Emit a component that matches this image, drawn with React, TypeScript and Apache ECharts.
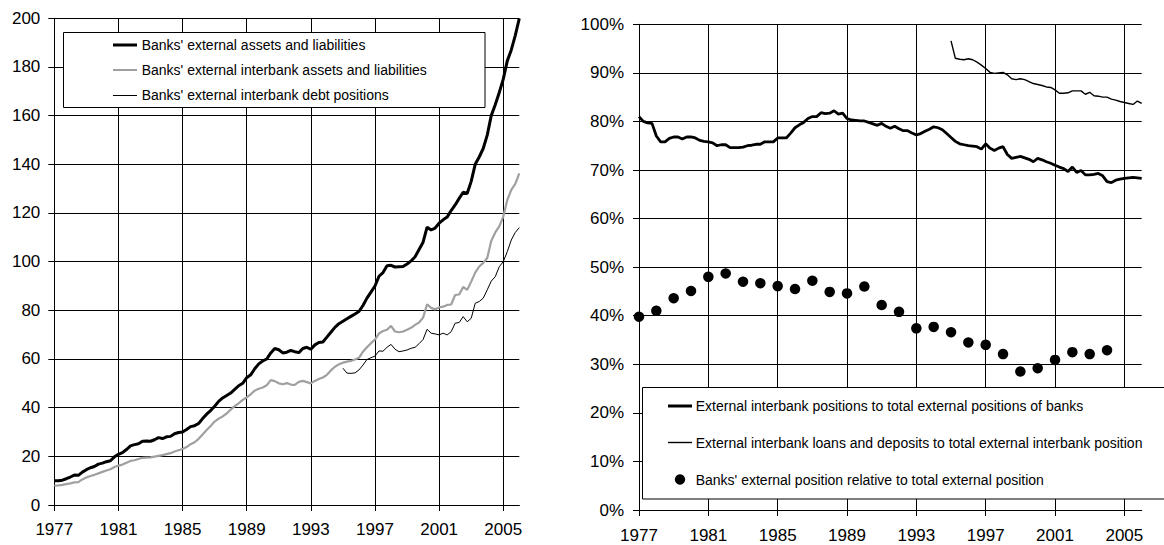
import React, { useEffect, useRef } from "react";
import * as echarts from "echarts";

// ---------- categories ----------
const START_YEAR = 1977;
const N_QUARTERS = 117; // 1977Q1 .. 2006Q1
const quarters: string[] = Array.from({ length: N_QUARTERS }, (_, i) => `${START_YEAR + Math.floor(i / 4)}Q${(i % 4) + 1}`);

// ---------- left chart (index values) ----------
const banksExternal: number[] = [
  10.0, 10.0, 10.2, 10.8,
  11.5, 12.3, 12.2, 13.5,
  14.5, 15.3, 15.8, 16.8,
  17.2, 17.8, 18.2, 19.8,
  20.8, 21.5, 22.8, 24.3,
  24.8, 25.2, 26.2, 26.3,
  26.2, 26.8, 27.7, 27.3,
  28.0, 28.2, 29.3, 29.8,
  30.0, 31.0, 32.2, 32.6,
  33.5, 35.5, 37.3, 38.8,
  40.6, 42.6, 44.0, 45.0,
  46.0, 47.5, 49.0, 50.0,
  52.3, 53.5, 56.0, 58.0,
  59.2, 60.0, 62.5, 64.3,
  63.8, 62.5, 62.8, 63.5,
  63.0, 62.6, 64.3, 64.8,
  64.0, 65.8, 66.8, 67.0,
  69.0, 71.0, 73.0, 74.5,
  75.5, 76.5, 77.5, 78.5,
  79.5, 82.0, 85.0, 87.5,
  90.0, 94.0, 95.5, 98.3,
  98.5, 97.8, 97.9, 98.0,
  99.0, 100.3, 102.0, 105.0,
  108.0, 114.2, 113.0, 113.8,
  115.8, 117.2, 118.3, 121.0,
  123.3, 126.0, 128.5, 128.0,
  133.0, 140.0, 143.0, 146.5,
  152.0, 160.0, 164.5, 169.5,
  175.0, 182.5, 187.0, 193.0,
  200.0,
];

const banksInterbank: number[] = [
  8.0, 8.1, 8.3, 8.6,
  8.9, 9.3, 9.4, 10.5,
  11.3, 11.9, 12.4, 13.0,
  13.6, 14.2, 14.7, 15.6,
  16.2, 16.6, 17.4, 18.1,
  18.4, 18.9, 19.4, 19.5,
  19.6, 19.9, 20.2, 20.5,
  20.9, 21.3, 22.0, 22.5,
  23.0, 23.8, 25.0, 25.8,
  27.2, 29.0, 30.8, 32.5,
  34.3, 35.5, 36.4, 37.6,
  39.2, 40.6, 41.8, 43.2,
  44.2, 45.5, 47.0, 47.8,
  48.3, 49.2, 51.3, 50.9,
  50.0, 49.6, 50.1, 49.5,
  49.4, 50.6, 51.0, 50.5,
  50.0, 51.0, 51.8, 52.4,
  53.5, 55.3, 56.8, 57.8,
  58.5, 58.9, 59.2, 59.8,
  60.5, 63.0, 64.8, 66.5,
  68.0, 70.5, 71.5, 72.0,
  73.6, 71.3, 71.0, 71.3,
  72.0, 72.8, 74.0, 75.0,
  77.0, 82.5, 81.0, 80.4,
  81.2, 81.5, 82.2, 82.4,
  86.3, 86.5, 89.6, 88.4,
  91.8, 95.5, 98.0, 99.5,
  101.5, 108.5, 112.0, 114.5,
  118.5, 125.3, 129.5, 132.0,
  136.3,
];

const DEBT_START_INDEX = 72; // 1995Q1
const banksDebt: number[] = [
  56.2, 54.2, 54.1, 54.3,
  55.5, 57.5, 59.8, 60.5,
  61.2, 63.3, 63.2, 64.8,
  66.0, 64.0, 63.0, 63.3,
  63.7, 64.4, 64.8, 66.3,
  68.0, 72.2, 70.6, 70.3,
  69.9, 70.6, 69.9, 71.2,
  74.7, 75.0, 77.4, 75.3,
  76.7, 82.9, 83.6, 85.0,
  88.4, 92.0, 93.8, 97.9,
  100.0, 104.1, 108.9, 112.0,
  114.0,
];

// ---------- right chart (percent) ----------
const interbankShare: number[] = [
  81.0, 80.0, 79.7, 79.6,
  77.0, 75.8, 75.8, 76.5,
  76.8, 76.8, 76.4, 76.8,
  76.8, 76.6, 76.1, 75.9,
  75.8, 75.6, 75.0, 75.2,
  75.2, 74.6, 74.6, 74.6,
  74.7, 75.0, 75.1, 75.3,
  75.3, 75.8, 75.8, 75.8,
  76.6, 76.6, 76.6, 77.6,
  78.7, 79.3, 79.8, 80.6,
  81.0, 81.0, 81.8, 81.6,
  81.7, 82.2, 81.5, 81.7,
  80.6, 80.3, 80.2, 80.1,
  80.1, 79.8, 79.5, 79.2,
  79.6, 79.0, 78.6, 79.0,
  78.5, 78.1, 78.1, 77.6,
  77.2, 77.5, 78.0, 78.4,
  78.9, 78.7, 78.3, 77.5,
  76.7, 75.9, 75.4, 75.2,
  75.0, 74.9, 74.8, 74.3,
  75.4, 74.5, 74.0, 74.5,
  74.8, 73.2, 72.4, 72.6,
  72.8, 72.5, 72.2, 71.7,
  72.4, 72.1, 71.7, 71.4,
  71.0, 70.6, 70.3, 69.7,
  70.6, 69.5, 69.9, 69.0,
  69.0, 69.1, 69.3, 68.8,
  67.6, 67.4, 67.9, 68.1,
  68.3, 68.4, 68.5, 68.4,
  68.3,
];

const LOANS_START_INDEX = 72; // 1995Q1
const loansDepositsShare: number[] = [
  96.6, 93.0, 92.8, 92.7,
  92.9, 92.7, 92.2, 91.6,
  90.9, 90.1, 89.9, 90.0,
  90.1, 89.6, 88.8, 88.6,
  88.8, 88.6, 88.2, 87.8,
  87.6, 87.4, 87.1, 87.0,
  86.5, 85.8, 85.8, 85.9,
  86.3, 86.3, 86.3, 85.6,
  86.0, 85.3, 85.2, 85.0,
  85.0, 84.6, 84.4, 84.1,
  83.9, 83.7, 83.5, 84.2,
  83.7,
];

const dotYears: number[] = [
  1977, 1978, 1979, 1980, 1981, 1982, 1983, 1984, 1985, 1986, 1987, 1988, 1989, 1990,
  1991, 1992, 1993, 1994, 1995, 1996, 1997, 1998, 1999, 2000, 2001, 2002, 2003, 2004,
];
const dotValues: number[] = [
  39.8, 41.0, 43.6, 45.1, 48.0, 48.7, 47.0, 46.7, 46.1, 45.5, 47.2, 44.9, 44.6, 46.0,
  42.2, 40.8, 37.4, 37.7, 36.6, 34.5, 34.0, 32.1, 28.5, 29.2, 30.9, 32.5, 32.1, 32.9,
];

// ---------- labels ----------
const leftNames: string[] = [
  "Banks' external assets and liabilities",
  "Banks' external interbank assets and liabilities",
  "Banks' external interbank debt positions",
];
const rightNames: string[] = [
  "External interbank positions to total external positions of banks",
  "External interbank loans and deposits to total external interbank position",
  "Banks' external position relative to total external position",
];

const FONT = "'Liberation Sans', Arial, sans-serif";
const GRAY = "#a0a0a0";

const every16 = (i: number) => i % 16 === 0;

function makeXAxis(gridIndex: number, margin: number) {
  return {
    type: "category",
    gridIndex,
    data: quarters,
    boundaryGap: false,
    axisLine: { show: true, lineStyle: { color: "#000", width: 1 } },
    axisTick: { show: true, interval: every16, length: 6, lineStyle: { color: "#000" } },
    axisLabel: {
      interval: every16,
      formatter: (v: string) => v.slice(0, 4),
      color: "#000",
      fontFamily: FONT,
      fontSize: 17,
      margin,
    },
    splitLine: { show: true, interval: every16, lineStyle: { color: "#000", width: 1 } },
  };
}

function makeYAxis(gridIndex: number, max: number, interval: number, fmt: string, margin: number) {
  return {
    type: "value",
    gridIndex,
    min: 0,
    max,
    interval,
    axisLine: { show: true, lineStyle: { color: "#000", width: 1 } },
    axisTick: { show: true, length: 6, lineStyle: { color: "#000" } },
    axisLabel: { formatter: fmt, color: "#000", fontFamily: FONT, fontSize: 17, margin },
    splitLine: { show: true, lineStyle: { color: "#000", width: 1 } },
  };
}

export default function App() {
  const ref = useRef<HTMLDivElement>(null);

  useEffect(() => {
    if (!ref.current) return;
    const chart = echarts.init(ref.current, undefined, { renderer: "svg" });

    const debtData = banksDebt.map((v, i) => [DEBT_START_INDEX + i, v]);
    const loansData = loansDepositsShare.map((v, i) => [LOANS_START_INDEX + i, v]);
    const dotData = dotYears.map((y, i) => [(y - START_YEAR) * 4, dotValues[i]]);

    const textStyle = { fill: "#000", font: `14px ${FONT}`, verticalAlign: "middle", align: "left" };

    const leftRows = [45, 70, 95];
    const rightRows = [406, 442.5, 479.5];
    const Z = 100;

    const option: any = {
      animation: false,
      backgroundColor: "#fff",
      grid: [
        { left: 54.3, top: 18.3, width: 465, height: 486.7 },
        { left: 639, top: 24.3, width: 502.7, height: 485.7 },
      ],
      xAxis: [makeXAxis(0, 16), makeXAxis(1, 17)],
      yAxis: [makeYAxis(0, 200, 20, "{value}", 14), makeYAxis(1, 100, 10, "{value}%", 15)],
      series: [
        {
          name: leftNames[0], type: "line", xAxisIndex: 0, yAxisIndex: 0, data: banksExternal,
          symbol: "none", lineStyle: { color: "#000", width: 3 }, z: 4,
        },
        {
          name: leftNames[1], type: "line", xAxisIndex: 0, yAxisIndex: 0, data: banksInterbank,
          symbol: "none", lineStyle: { color: GRAY, width: 2.2 }, z: 3,
        },
        {
          name: leftNames[2], type: "line", xAxisIndex: 0, yAxisIndex: 0, data: debtData,
          symbol: "none", lineStyle: { color: "#000", width: 1 }, z: 3,
        },
        {
          name: rightNames[0], type: "line", xAxisIndex: 1, yAxisIndex: 1, data: interbankShare,
          symbol: "none", lineStyle: { color: "#000", width: 2.8 }, z: 4,
        },
        {
          name: rightNames[1], type: "line", xAxisIndex: 1, yAxisIndex: 1, data: loansData,
          symbol: "none", lineStyle: { color: "#000", width: 1.4 }, z: 3,
        },
        {
          name: rightNames[2], type: "scatter", xAxisIndex: 1, yAxisIndex: 1, data: dotData,
          symbol: "circle", symbolSize: 10.5, itemStyle: { color: "#000", opacity: 1 }, z: 5,
        },
      ],
      graphic: [
        { type: "rect", z: Z, shape: { x: 63.5, y: 32.5, width: 421.5, height: 75 }, style: { fill: "#fff", stroke: "#000", lineWidth: 1 } },
        { type: "line", z: Z + 1, shape: { x1: 113, y1: leftRows[0], x2: 137, y2: leftRows[0] }, style: { stroke: "#000", lineWidth: 3 } },
        { type: "line", z: Z + 1, shape: { x1: 113, y1: leftRows[1], x2: 137, y2: leftRows[1] }, style: { stroke: GRAY, lineWidth: 2 } },
        { type: "line", z: Z + 1, shape: { x1: 113, y1: leftRows[2] + 0.5, x2: 137, y2: leftRows[2] + 0.5 }, style: { stroke: "#000", lineWidth: 1 } },
        ...leftNames.map((t, i) => ({ type: "text", z: Z + 1, x: 141.7, y: leftRows[i], style: { ...textStyle, text: t } })),

        { type: "rect", z: Z, shape: { x: 642.5, y: 387.5, width: 540, height: 111.5 }, style: { fill: "#fff", stroke: "#000", lineWidth: 1 } },
        { type: "line", z: Z + 1, shape: { x1: 668, y1: rightRows[0], x2: 692, y2: rightRows[0] }, style: { stroke: "#000", lineWidth: 3 } },
        { type: "line", z: Z + 1, shape: { x1: 668, y1: rightRows[1], x2: 692, y2: rightRows[1] }, style: { stroke: "#000", lineWidth: 1.4 } },
        { type: "circle", z: Z + 1, shape: { cx: 680, cy: rightRows[2], r: 5.2 }, style: { fill: "#000" } },
        ...rightNames.map((t, i) => ({ type: "text", z: Z + 1, x: 695.7, y: rightRows[i], style: { ...textStyle, text: t } })),
      ],
    };

    chart.setOption(option);
    return () => chart.dispose();
  }, []);

  return (
    <div
      ref={ref}
      style={{ position: "fixed", left: 0, top: 0, width: 1164, height: 545, background: "#fff" }}
    />
  );
}
